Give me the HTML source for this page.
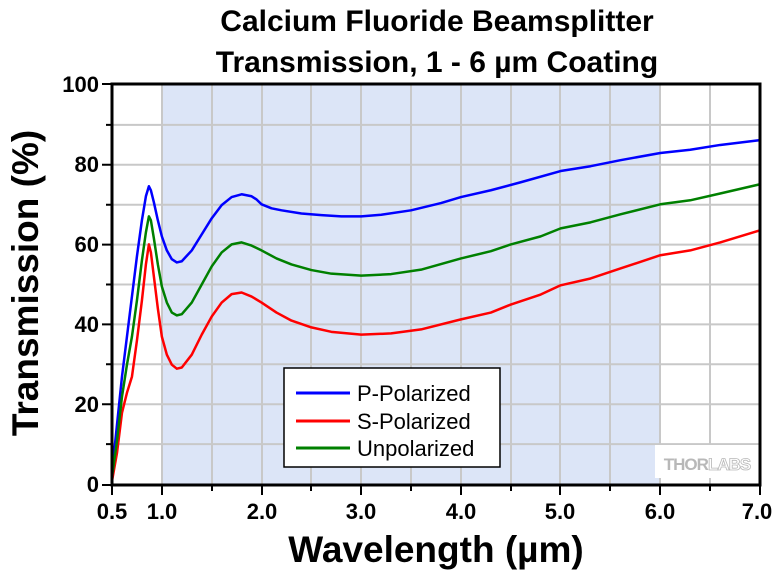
<!DOCTYPE html><html><head><style>body{margin:0;background:#fff}svg{display:block;font-family:"Liberation Sans",Arial,sans-serif}</style></head><body>
<svg width="780" height="571" viewBox="0 0 780 571">
<rect x="162" y="84" width="498.5" height="401" fill="#dce5f7"/>
<g stroke="#c8c8c8" stroke-width="2">
<path d="M162 84V485M212 84V485M262 84V485M311 84V485M361 84V485M411 84V485M461 84V485M511 84V485M560 84V485M610 84V485M660 84V485M710 84V485"/>
<path d="M112 124.9H760M112 164.8H760M112 204.7H760M112 244.6H760M112 284.5H760M112 324.4H760M112 364.3H760M112 404.2H760M112 444.1H760"/>
</g>
<rect x="655" y="445" width="105" height="33" fill="#fff"/>
<text x="707" y="470" text-anchor="middle" font-size="17" font-weight="bold" fill="#b8b8b8" letter-spacing="-1">THOR<tspan fill="#fff" stroke="#b8b8b8" stroke-width="0.8">LABS</tspan></text>
<g transform="translate(62.15,485) scale(99.7,-4.01)" fill="none" stroke-width="2.5" stroke-linejoin="round">
<polyline vector-effect="non-scaling-stroke" stroke="#0000ff" points="0.5,3 0.55,15 0.6,27 0.65,37 0.7,47 0.75,57 0.8,66 0.84,72 0.87,74.5 0.89,73.5 0.92,70.5 0.96,66 1.0,62 1.05,58.5 1.1,56.3 1.15,55.5 1.2,55.8 1.3,58.5 1.4,62.5 1.5,66.5 1.6,69.8 1.7,71.8 1.8,72.5 1.9,72 1.95,71.2 2.0,70 2.1,69 2.2,68.5 2.4,67.7 2.6,67.3 2.8,67 3.0,67 3.2,67.4 3.5,68.5 3.8,70.3 4.0,71.8 4.3,73.5 4.6,75.5 5.0,78.3 5.3,79.5 5.6,81 6.0,82.8 6.3,83.6 6.6,84.8 7.0,86"/>
<polyline vector-effect="non-scaling-stroke" stroke="#ff0000" points="0.5,1 0.55,8 0.6,18 0.65,23 0.7,27 0.75,36 0.8,46 0.84,55 0.87,60 0.89,58 0.92,52 0.96,44 1.0,37 1.05,32.5 1.1,30 1.15,29 1.2,29.3 1.3,32.5 1.4,37.5 1.5,42 1.6,45.5 1.7,47.6 1.8,48 1.9,47 2.0,45.5 2.15,43 2.3,41 2.5,39.3 2.7,38.2 3.0,37.5 3.3,37.8 3.6,38.8 4.0,41.3 4.3,43 4.5,45 4.8,47.5 5.0,49.8 5.3,51.5 5.6,54 6.0,57.3 6.3,58.5 6.6,60.5 7.0,63.5"/>
<polyline vector-effect="non-scaling-stroke" stroke="#008000" points="0.5,2 0.55,11 0.6,22 0.65,30 0.7,37 0.75,46 0.8,56 0.84,63 0.87,67 0.89,66 0.92,61.5 0.96,55 1.0,49.5 1.05,45.5 1.1,43 1.15,42.3 1.2,42.6 1.3,45.5 1.4,50 1.5,54.5 1.6,58 1.7,60 1.8,60.5 1.9,59.7 2.0,58.5 2.15,56.5 2.3,55 2.5,53.6 2.7,52.7 3.0,52.2 3.3,52.6 3.6,53.7 4.0,56.5 4.3,58.3 4.5,60 4.8,62 5.0,64 5.3,65.5 5.6,67.5 6.0,70 6.3,71 6.6,72.7 7.0,75"/>
</g>
<rect x="112" y="84" width="648" height="401" fill="none" stroke="#000" stroke-width="3"/>
<g stroke="#000" stroke-width="2">
<path d="M102 84H112M102 164.8H112M102 244.6H112M102 324.4H112M102 404.2H112M102 485H112"/>
<path d="M106 124.9H112M106 204.7H112M106 284.5H112M106 364.3H112M106 444.1H112"/>
<path d="M112 485V495M162 485V495M262 485V495M361 485V495M461 485V495M560 485V495M660 485V495M760 485V495"/>
<path d="M212 485V491M311 485V491M411 485V491M511 485V491M610 485V491M710 485V491"/>
</g>
<g font-size="22" font-weight="bold" text-anchor="end">
<text x="99" y="92">100</text><text x="99" y="172">80</text><text x="99" y="252">60</text><text x="99" y="332">40</text><text x="99" y="412">20</text><text x="99" y="492">0</text>
</g>
<g font-size="22" font-weight="bold" text-anchor="middle">
<text x="112" y="519">0.5</text><text x="162" y="519">1.0</text><text x="262" y="519">2.0</text><text x="361" y="519">3.0</text><text x="461" y="519">4.0</text><text x="560" y="519">5.0</text><text x="660" y="519">6.0</text><text x="757" y="519">7.0</text>
</g>
<text x="437" y="31" text-anchor="middle" font-size="30" font-weight="bold">Calcium Fluoride Beamsplitter</text>
<text x="437" y="72" text-anchor="middle" font-size="30" font-weight="bold">Transmission, 1 - 6 µm Coating</text>
<text x="436" y="562" text-anchor="middle" font-size="37" font-weight="bold">Wavelength (µm)</text>
<text transform="translate(38,283) rotate(-90)" text-anchor="middle" font-size="37" font-weight="bold">Transmission (%)</text>
<rect x="284" y="368" width="216" height="99" fill="#fff" stroke="#000" stroke-width="1.5"/>
<g stroke-width="3"><path d="M296 393H350" stroke="#0000ff"/><path d="M296 421H350" stroke="#ff0000"/><path d="M296 448H350" stroke="#008000"/></g>
<g font-size="22"><text x="357" y="401">P-Polarized</text><text x="357" y="429">S-Polarized</text><text x="357" y="456">Unpolarized</text></g>
</svg></body></html>
